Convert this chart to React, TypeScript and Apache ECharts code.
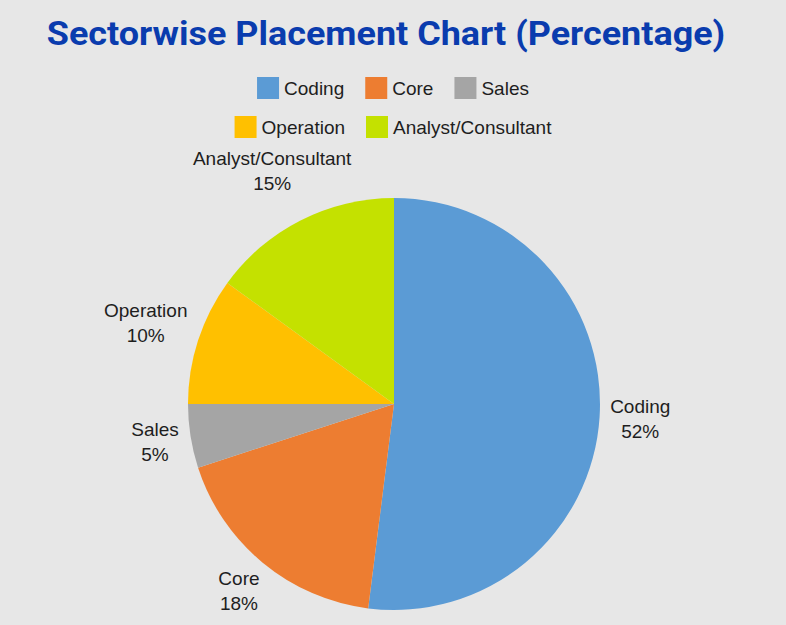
import React, { useEffect, useRef } from "react";
import * as echarts from "echarts";

const categories = ["Coding", "Core", "Sales", "Operation", "Analyst/Consultant"];
const values = [52, 18, 5, 10, 15];
const colors = ["#5b9bd5", "#ed7d31", "#a5a5a5", "#ffc000", "#c4e100"];
const legendRow1 = ["Coding", "Core", "Sales"];
const legendRow2 = ["Operation", "Analyst/Consultant"];
const titleText = "Sectorwise Placement Chart (Percentage)";

const CX = 394;
const CY = 404;
const R = 206;
const GAP = 9.5;
const LABEL_MIN_Y = 171;

export default function App() {
  const ref = useRef<HTMLDivElement>(null);
  useEffect(() => {
    if (!ref.current) return;
    const chart = echarts.init(ref.current, null, { renderer: "svg" });
    const total = values.reduce((a, b) => a + b, 0);
    const textColor = "#1e1e1e";
    const font = "'Liberation Sans', Arial, sans-serif";
    const legendBase = {
      left: "center",
      icon: "rect",
      itemWidth: 22,
      itemHeight: 22,
      itemGap: 21,
      padding: 0,
      textStyle: { fontSize: 19, lineHeight: 22, color: textColor, fontFamily: font },
    };
    chart.setOption({
      animation: false,
      backgroundColor: "#e7e7e7",
      graphic: [
        {
          type: "text",
          x: 386,
          y: 34,
          scaleX: 1.09,
          silent: true,
          style: {
            text: titleText,
            fontFamily: "Roboto",
            fontWeight: 700,
            fontSize: 33,
            fill: "#0a3cae",
            align: "center",
            verticalAlign: "middle",
          },
        },
      ],
      legend: [
        { ...legendBase, data: legendRow1, top: 77 },
        { ...legendBase, data: legendRow2, top: 116 },
      ],
      series: [
        {
          type: "pie",
          center: [CX, CY],
          radius: R,
          startAngle: 90,
          clockwise: true,
          avoidLabelOverlap: false,
          data: categories.map((name, i) => ({
            name,
            value: values[i],
            itemStyle: { color: colors[i] },
          })),
          label: {
            show: true,
            position: "outside",
            formatter: "{b}\n{c}%",
            fontSize: 19,
            lineHeight: 25,
            color: textColor,
            fontFamily: font,
          },
          labelLine: { show: false },
          labelLayout: (p: any) => {
            const i = p.dataIndex;
            let before = 0;
            for (let k = 0; k < i; k++) before += values[k];
            const mid = ((before + values[i] / 2) / total) * Math.PI * 2;
            const dx = Math.sin(mid);
            const dy = -Math.cos(mid);
            const w = p.labelRect.width;
            const h = p.labelRect.height - 12;
            const ext = (Math.abs(dx) * w) / 2 + (Math.abs(dy) * h) / 2;
            const d = R + GAP + ext;
            return {
              x: CX + dx * d,
              y: Math.max(LABEL_MIN_Y, CY + dy * d),
              align: "center",
              verticalAlign: "middle",
            };
          },
          emphasis: { disabled: true },
        },
      ],
    });
    return () => chart.dispose();
  }, []);
  return (
    <div
      ref={ref}
      style={{ position: "absolute", left: 0, top: 0, width: 786, height: 625 }}
    />
  );
}
